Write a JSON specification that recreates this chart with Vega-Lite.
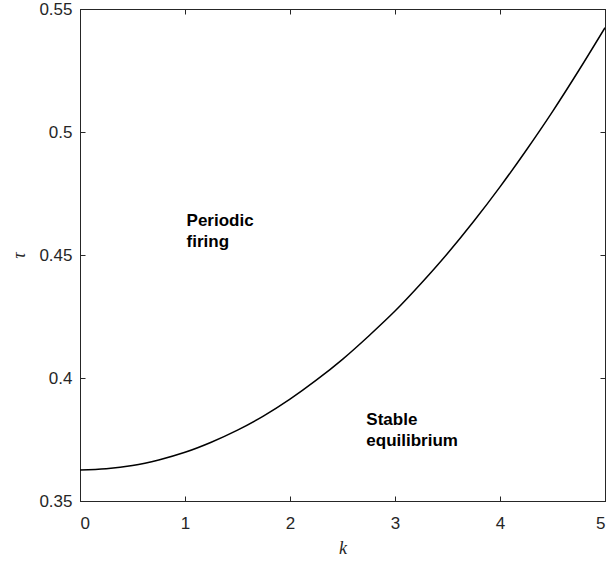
{
  "$schema": "https://vega.github.io/schema/vega-lite/v6.json",
  "width": 525,
  "height": 492,
  "autosize": "none",
  "padding": {"left": 80, "top": 9, "right": 2, "bottom": 60},
  "background": "white",
  "config": {
    "view": {"stroke": "#262626", "strokeWidth": 1},
    "axis": {
      "domainColor": "#262626",
      "tickColor": "#262626",
      "labelColor": "#262626",
      "labelFont": "Liberation Sans",
      "labelFontSize": 17,
      "grid": false,
      "tickSize": -5,
      "titleColor": "#262626",
      "titleFont": "Liberation Serif",
      "titleFontStyle": "italic",
      "titleFontWeight": "normal",
      "titleFontSize": 18
    }
  },
  "datasets": {
    "curve": [
      {"k": 0, "tau": 0.3626},
      {"k": 0.25, "tau": 0.3631},
      {"k": 0.5, "tau": 0.3644},
      {"k": 0.75, "tau": 0.3667},
      {"k": 1, "tau": 0.3698},
      {"k": 1.25, "tau": 0.3739},
      {"k": 1.5, "tau": 0.3788},
      {"k": 1.75, "tau": 0.3846},
      {"k": 2, "tau": 0.3914},
      {"k": 2.25, "tau": 0.3991},
      {"k": 2.5, "tau": 0.4076},
      {"k": 2.75, "tau": 0.4171},
      {"k": 3, "tau": 0.4272},
      {"k": 3.25, "tau": 0.4385},
      {"k": 3.5, "tau": 0.4506},
      {"k": 3.75, "tau": 0.4637},
      {"k": 4, "tau": 0.4777},
      {"k": 4.25, "tau": 0.4926},
      {"k": 4.5, "tau": 0.5083},
      {"k": 4.75, "tau": 0.5250},
      {"k": 5, "tau": 0.5424}
    ],
    "labels": [
      {"k": 1.015, "tau": 0.4618, "label": "Periodic\nfiring"},
      {"k": 2.727, "tau": 0.3809, "label": "Stable\nequilibrium"}
    ]
  },
  "layer": [
    {
      "data": {"name": "curve"},
      "mark": {"type": "line", "color": "black", "strokeWidth": 1.5, "clip": true, "interpolate": "monotone"},
      "encoding": {
        "x": {
          "field": "k", "type": "quantitative",
          "scale": {"domain": [0, 5], "nice": false, "zero": false},
          "axis": {"values": [0, 1, 2, 3, 4, 5], "format": "d", "title": "k",
                   "labelPadding": 19, "titleX": 262.5, "titleY": 47, "titleBaseline": "middle", "titleAlign": "center"}
        },
        "y": {
          "field": "tau", "type": "quantitative",
          "scale": {"domain": [0.35, 0.55], "nice": false, "zero": false},
          "axis": {"values": [0.35, 0.4, 0.45, 0.5, 0.55], "format": ".2~f", "title": "τ",
                   "labelPadding": 13, "titleX": -61, "titleY": 246, "titleBaseline": "middle", "titleAlign": "center", "titleAngle": -90}
        }
      }
    },
    {
      "data": {"name": "curve"},
      "mark": {"type": "line", "opacity": 0},
      "encoding": {
        "x": {
          "field": "k", "type": "quantitative",
          "axis": {"orient": "top", "values": [0, 1, 2, 3, 4, 5], "labels": false, "title": null}
        },
        "y": {
          "field": "tau", "type": "quantitative",
          "axis": {"orient": "right", "values": [0.35, 0.4, 0.45, 0.5, 0.55], "labels": false, "title": null}
        }
      }
    },
    {
      "data": {"name": "labels"},
      "mark": {"type": "text", "align": "left", "baseline": "alphabetic", "font": "Liberation Sans", "fontWeight": "bold", "fontSize": 17, "lineHeight": 21, "lineBreak": "\n", "color": "black"},
      "encoding": {
        "x": {"field": "k", "type": "quantitative", "axis": null},
        "y": {"field": "tau", "type": "quantitative", "axis": null},
        "text": {"field": "label"}
      }
    }
  ],
  "resolve": {"axis": {"x": "independent", "y": "independent"}}
}
